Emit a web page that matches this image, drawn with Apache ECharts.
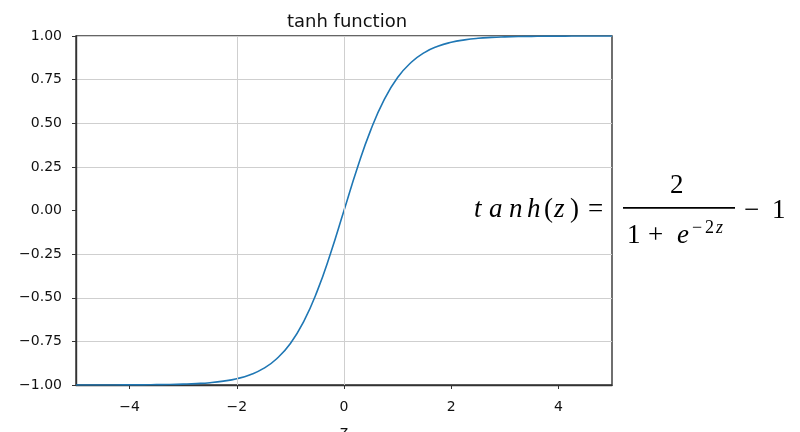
<!DOCTYPE html>
<html>
<head>
<meta charset="utf-8">
<style>
  html, body { margin: 0; padding: 0; background: #ffffff; }
  #chart { width: 800px; height: 432px; }
</style>
<script src="https://cdn.jsdelivr.net/npm/echarts@6/dist/echarts.min.js"></script>
</head>
<body>
<div id="chart"></div>
<script>
// Sampled points of the tanh curve
const zValues = [
  -5, -4.75, -4.5, -4.25, -4, -3.75, -3.5, -3.25, -3, -2.75, -2.5, -2.25, -2,
  -1.75, -1.5, -1.25, -1, -0.75, -0.5, -0.25, 0, 0.25, 0.5, 0.75, 1, 1.25, 1.5,
  1.75, 2, 2.25, 2.5, 2.75, 3, 3.25, 3.5, 3.75, 4, 4.25, 4.5, 4.75, 5
];
const tanhValues = [
  -1.000, -1.000, -1.000, -1.000, -0.999, -0.999, -0.998, -0.997, -0.995, -0.992,
  -0.987, -0.978, -0.964, -0.941, -0.905, -0.848, -0.762, -0.635, -0.462, -0.245,
  0.000, 0.245, 0.462, 0.635, 0.762, 0.848, 0.905, 0.941, 0.964, 0.978, 0.987,
  0.992, 0.995, 0.997, 0.998, 0.999, 0.999, 1.000, 1.000, 1.000, 1.000
];
const xTicks = [-4, -2, 0, 2, 4];
const xGridLines = [-2, 0];
const yTickLabels = ['\u22121.00', '\u22120.75', '\u22120.50', '\u22120.25', '0.00', '0.25', '0.50', '0.75', '1.00'];

const chart = echarts.init(document.getElementById('chart'), null, { renderer: 'canvas' });

const tickFont = { fontFamily: 'DejaVu Sans', fontSize: 14, color: '#111' };
const serif = '"Liberation Serif"';

// horizontal grid colours; the zero line is left out
const hGridColors = yTickLabels.map(t => t === '0.00' ? 'rgba(0,0,0,0)' : '#cfcfcf');

// one glyph (or run) of the formula at a fixed spot
function glyph(text, left, top, size, italic) {
  return {
    type: 'text', left: left, top: top, z: 10,
    style: { text: text, font: (italic ? 'italic ' : '') + size + 'px ' + serif, fill: '#000' }
  };
}

chart.setOption({
  animation: false,
  backgroundColor: '#ffffff',
  title: {
    text: 'tanh function',
    left: 342,
    top: 8,
    textAlign: 'center',
    textStyle: { fontFamily: 'DejaVu Sans', fontSize: 18, fontWeight: 'normal', color: '#111' }
  },
  grid: {
    left: 76, right: 188, top: 36, bottom: 47,
    outerBoundsMode: 'none',
    containLabel: false,
    show: true, borderColor: '#333', borderWidth: 1.4, backgroundColor: 'transparent'
  },
  xAxis: {
    type: 'value',
    min: -5, max: 5,
    name: 'z',
    nameLocation: 'middle',
    nameGap: 40,
    nameTextStyle: { fontFamily: 'DejaVu Sans', fontSize: 16, color: '#111', verticalAlign: 'top' },
    axisLine: { show: true, onZero: false, lineStyle: { color: '#333', width: 1.4 } },
    axisTick: { show: true, customValues: xTicks, length: 4, lineStyle: { color: '#333' } },
    axisLabel: {
      customValues: xTicks, margin: 15, ...tickFont,
      formatter: v => (v < 0 ? '\u2212' + Math.abs(v) : String(v))
    },
    splitLine: { show: false }
  },
  yAxis: {
    type: 'value',
    min: -1, max: 1, interval: 0.25,
    axisLine: { show: true, onZero: false, lineStyle: { color: '#333', width: 1.4 } },
    axisTick: { show: true, length: 4, lineStyle: { color: '#333' } },
    axisLabel: {
      margin: 14, ...tickFont,
      formatter: v => yTickLabels[Math.round((v + 1) / 0.25)]
    },
    splitLine: { show: true, lineStyle: { color: hGridColors, width: 1 } }
  },
  series: [
    {
      type: 'line',
      data: zValues.map((z, i) => [z, tanhValues[i]]),
      showSymbol: false,
      smooth: 0.5,
      lineStyle: { color: '#1f77b4', width: 1.6 },
      z: 3,
      markLine: {
        silent: true,
        symbol: 'none',
        label: { show: false },
        lineStyle: { color: '#cfcfcf', type: 'solid', width: 1 },
        data: xGridLines.map(v => ({ xAxis: v }))
      }
    }
  ],
  graphic: [
    // tanh(z) = 2 / (1 + e^{-2z}) - 1
    glyph('t', 474, 196, 27, true),
    glyph('a', 489, 196, 27, true),
    glyph('n', 509, 196, 27, true),
    glyph('h', 527, 196, 27, true),
    glyph('(', 544, 196, 27, false),
    glyph('z', 554, 196, 27, true),
    glyph(')', 570, 196, 27, false),
    glyph('=', 588, 196, 27, false),
    glyph('2', 670, 172, 27, false),
    {
      type: 'rect', z: 10,
      shape: { x: 623, y: 207, width: 112, height: 1.8 },
      style: { fill: '#000' }
    },
    glyph('1', 627, 222, 27, false),
    glyph('+', 648, 222, 27, false),
    glyph('e', 677, 222, 27, true),
    glyph('\u2212', 692, 219, 18, false),
    glyph('2', 705, 219, 18, false),
    glyph('z', 716, 219, 18, true),
    glyph('\u2212', 744, 197, 27, false),
    glyph('1', 772, 197, 27, false)
  ]
});
</script>
</body>
</html>
